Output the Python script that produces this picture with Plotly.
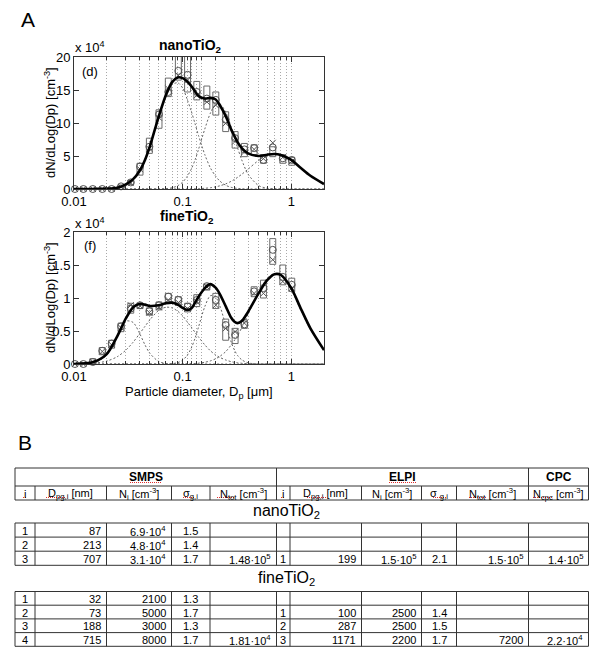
import plotly.graph_objects as go

W, H = 600, 649

# ---------------- data (values in units of 10^4 cm^-3) ----------------
D_grid = [0.01, 0.015, 0.02, 0.025, 0.03, 0.035, 0.04, 0.045, 0.05, 0.06, 0.07, 0.08, 0.09,
          0.1, 0.11, 0.12, 0.13, 0.14, 0.16, 0.18, 0.2, 0.22, 0.25, 0.28, 0.3, 0.32, 0.35,
          0.4, 0.5, 0.6, 0.7, 0.8, 1.0, 1.2, 1.5, 2.0]

nano_total = [0, 0.01, 0.05, 0.2, 0.7, 1.5, 2.7, 4.4, 6.5, 10.9, 14.2, 16.2, 16.9,
              16.8, 16.3, 15.6, 14.8, 14.1, 13.7, 13.8, 13.6, 12.7, 11.0, 9.0, 8.0, 7.1, 6.2,
              5.4, 5.0, 5.2, 5.3, 5.15, 4.4, 3.3, 2.0, 0.75]
nano_mode1 = [0, 0, 0.02, 0.14, 0.52, 1.3, 2.6, 4.3, 6.4, 10.6, 14.0, 15.8, 16.1,
              15.3, 13.6, 11.8, 9.9, 8.1, 5.2, 3.2, 2.0, 1.2, 0.55, 0.25, 0.15, 0.09, 0.04,
              0.01, 0, 0, 0, 0, 0, 0, 0, 0]
nano_mode2 = [0, 0, 0, 0, 0, 0, 0, 0, 0, 0.01, 0.05, 0.19, 0.49,
              1.04, 1.9, 3.0, 4.4, 6.0, 9.1, 11.5, 12.8, 12.9, 11.6, 9.35, 7.7, 6.25, 4.4,
              2.25, 0.52, 0.11, 0.025, 0, 0, 0, 0, 0]
nano_mode3 = [0, 0, 0, 0, 0, 0, 0, 0, 0, 0, 0, 0, 0,
              0.01, 0.01, 0.02, 0.03, 0.05, 0.11, 0.19, 0.32, 0.48, 0.79, 1.17, 1.46, 1.76, 2.23,
              3.0, 4.34, 5.12, 5.37, 5.22, 4.34, 3.27, 1.97, 0.79]

fine_total = [0, 0.03, 0.15, 0.42, 0.69, 0.86, 0.91, 0.90, 0.88, 0.89, 0.92, 0.93, 0.90,
              0.85, 0.82, 0.84, 0.93, 1.02, 1.15, 1.21, 1.16, 1.06, 0.87, 0.70, 0.64, 0.62, 0.65,
              0.79, 1.07, 1.27, 1.36, 1.35, 1.15, 0.87, 0.54, 0.21]
fine_mode1 = [0, 0.01, 0.135, 0.43, 0.65, 0.63, 0.47, 0.29, 0.16, 0.04, 0.008, 0, 0,
              0, 0, 0, 0, 0, 0, 0, 0, 0, 0, 0, 0, 0, 0,
              0, 0, 0, 0, 0, 0, 0, 0, 0]
fine_mode2 = [0, 0.01, 0.044, 0.11, 0.21, 0.33, 0.455, 0.57, 0.67, 0.81, 0.86, 0.85, 0.80,
              0.73, 0.64, 0.56, 0.48, 0.41, 0.29, 0.20, 0.14, 0.10, 0.06, 0.035, 0.025, 0.018, 0.011,
              0.005, 0, 0, 0, 0, 0, 0, 0, 0]
fine_mode3 = [0, 0, 0, 0, 0, 0, 0, 0, 0, 0, 0, 0.005, 0.02,
              0.058, 0.13, 0.24, 0.39, 0.56, 0.87, 1.035, 1.02, 0.88, 0.58, 0.33, 0.21, 0.13, 0.063,
              0.017, 0, 0, 0, 0, 0, 0, 0, 0]
fine_mode4 = [0, 0, 0, 0, 0, 0, 0, 0, 0, 0, 0, 0, 0,
              0.001, 0.003, 0.005, 0.008, 0.012, 0.026, 0.047, 0.077, 0.116, 0.19, 0.29, 0.36, 0.43, 0.55,
              0.75, 1.09, 1.30, 1.37, 1.34, 1.12, 0.85, 0.52, 0.21]

D_pts = [0.0102, 0.0122, 0.0149, 0.0182, 0.0222, 0.0271, 0.0333, 0.0405, 0.0494, 0.0606,
         0.0738, 0.0913, 0.111, 0.135, 0.167, 0.202, 0.249, 0.304, 0.370, 0.455, 0.554,
         0.675, 0.835, 1.01]

nano_lo = [0, 0, 0, 0, 0, 0.2, 0.7, 2.1, 5.4, 9.2, 14.0, 16.5, 14.7, 13.5, 12.1, 11.2, 8.7,
           6.2, 4.9, 5.2, 3.9, 4.9, 3.9, 3.6]
nano_hi = [0, 0, 0, 0, 0, 0.6, 1.3, 3.9, 7.7, 12.0, 16.8, 21.0, 21.0, 16.3, 15.6, 14.7, 11.7,
           8.7, 6.9, 6.7, 5.2, 6.4, 5.2, 4.8]
nano_circ = [0, 0, 0, 0, 0, 0.4, 1.0, 3.4, 6.4, 11.3, 14.7, 17.9, 17.3, 14.7, 13.7, 13.5, 10.5,
             7.7, 6.0, 6.2, 4.4, 6.3, 4.65, 4.4]
nano_x = [0, 0, 0, 0, 0, 0.3, 0.9, 3.0, 6.1, 10.8, 15.2, 17.2, 16.5, 14.2, 13.2, 12.7, 9.95,
          7.2, 5.6, 6.0, 4.6, 7.0, 4.8, 4.2]

fine_lo = [0, 0, 0, 0.14, 0.24, 0.49, 0.77, 0.84, 0.74, 0.82, 0.94, 0.89, 0.79, 0.87, 1.12,
           0.84, 0.36, 0.31, 0.54, 1.02, 1.0, 1.51, 1.2, 1.1]
fine_hi = [0, 0, 0.08, 0.25, 0.36, 0.62, 0.92, 0.92, 0.85, 0.94, 1.07, 1.02, 0.92, 1.05, 1.21,
           1.07, 0.68, 0.54, 0.67, 1.17, 1.27, 1.90, 1.5, 1.3]
fine_circ = [0, 0, 0.03, 0.2, 0.31, 0.57, 0.84, 0.89, 0.80, 0.89, 1.02, 0.97, 0.87, 0.97, 1.18,
             0.97, 0.59, 0.44, 0.60, 1.10, 1.15, 1.73, 1.32, 1.2]
fine_x = [0, 0, 0.03, 0.19, 0.29, 0.55, 0.89, 0.88, 0.78, 0.86, 0.97, 0.93, 0.84, 0.94, 1.17,
          0.89, 0.54, 0.49, 0.62, 1.07, 1.07, 1.58, 1.25, 1.15]

grid_minor = [0.02, 0.03, 0.04, 0.05, 0.06, 0.07, 0.08, 0.09, 0.11, 0.12, 0.135, 0.15,
              0.2, 0.3, 0.4, 0.5, 0.6, 0.7, 0.8, 0.9, 2]
x_ticks = [0.01, 0.1, 1]
x_ticktext = ["0.01", "0.1", "1"]
y1_ticks = [0, 5, 10, 15, 20]
y2_ticks = [0, 0.5, 1, 1.5, 2]
y2_ticktext = ["0", "0.5", "1", "1.5", "2"]

# table content
smps_head = ["i", "D<sub>pg,i</sub> [nm]", "N<sub>i</sub> [cm<sup>-3</sup>]", "σ<sub>g,i</sub>",
             "N<sub>tot</sub> [cm<sup>-3</sup>]"]
elpi_head = ["i", "D<sub>pg,i</sub> [nm]", "N<sub>i</sub> [cm<sup>-3</sup>]", "σ <sub>g,i</sub>",
             "N<sub>tot</sub> [cm<sup>-3</sup>]"]
cpc_head = ["N<sub>cpc</sub> [cm<sup>-3</sup>]"]
nano_rows = [
    ["1", "87", "6.9·10<sup>4</sup>", "1.5", "", "", "", "", "", "", ""],
    ["2", "213", "4.8·10<sup>4</sup>", "1.4", "", "", "", "", "", "", ""],
    ["3", "707", "3.1·10<sup>4</sup>", "1.7", "1.48·10<sup>5</sup>", "1", "199",
     "1.5·10<sup>5</sup>", "2.1", "1.5·10<sup>5</sup>", "1.4·10<sup>5</sup>"],
]
fine_rows = [
    ["1", "32", "2100", "1.3", "", "", "", "", "", "", ""],
    ["2", "73", "5000", "1.7", "", "1", "100", "2500", "1.4", "", ""],
    ["3", "188", "3000", "1.3", "", "2", "287", "2500", "1.5", "", ""],
    ["4", "715", "8000", "1.7", "1.81·10<sup>4</sup>", "3", "1171", "2200", "1.7", "7200",
     "2.2·10<sup>4</sup>"],
]

# ---------------- layout helpers ----------------
FONT = "Liberation Sans, Arial, sans-serif"
XL, XR = 74, 324
TOP1, BOT1 = 57, 189
TOP2, BOT2 = 232, 364
BOXW = 1.065


def px(x):
    return x / W


def py(y):
    return 1 - y / H


def boxes(d, lo, hi):
    xs, ys = [], []
    for di, l, h in zip(d, lo, hi):
        a, b = di / BOXW, di * BOXW
        xs += [a, b, b, a, a, None]
        ys += [l, l, h, h, l, None]
    return xs, ys


fig = go.Figure()


def add_panel(xa, ya, lo, hi, circ, xm, modes, total):
    bx, by = boxes(D_pts, lo, hi)
    fig.add_trace(go.Scatter(x=bx, y=by, mode="lines", xaxis=xa, yaxis=ya,
                             line=dict(color="#6a6a6a", width=1), hoverinfo="skip"))
    for m in modes:
        fig.add_trace(go.Scatter(x=D_grid, y=m, mode="lines", xaxis=xa, yaxis=ya,
                                 line=dict(color="#666", width=1, dash="2px,2px",
                                           shape="spline", smoothing=0.8)))
    fig.add_trace(go.Scatter(x=D_pts, y=circ, mode="markers", xaxis=xa, yaxis=ya, cliponaxis=False,
                             marker=dict(symbol="circle-open", size=7, color="#555",
                                         line=dict(width=1))))
    fig.add_trace(go.Scatter(x=D_pts, y=xm, mode="markers", xaxis=xa, yaxis=ya, cliponaxis=False,
                             marker=dict(symbol="x-thin-open", size=6, color="#555",
                                         line=dict(width=1, color="#555"))))
    fig.add_trace(go.Scatter(x=D_grid, y=total, mode="lines", xaxis=xa, yaxis=ya,
                             line=dict(color="black", width=2.6, shape="spline", smoothing=0.8)))


add_panel("x", "y", nano_lo, nano_hi, nano_circ, nano_x,
          [nano_mode1, nano_mode2, nano_mode3], nano_total)
add_panel("x2", "y2", fine_lo, fine_hi, fine_circ, fine_x,
          [fine_mode1, fine_mode2, fine_mode3, fine_mode4], fine_total)

xcommon = dict(type="log", range=[-2, 0.30103], domain=[px(XL), px(XR)], automargin=False,
               tickvals=x_ticks, ticktext=x_ticktext, ticks="inside", ticklen=5,
               tickcolor="#333", showline=True, linecolor="#333", linewidth=1, mirror="ticks",
               showgrid=True, gridcolor="#a8a8a8", griddash="1px,2px", gridwidth=1,
               zeroline=False, tickfont=dict(size=13, color="black", family=FONT),
               minor=dict(tickmode="array", tickvals=grid_minor, ticks="inside", ticklen=3,
                          tickcolor="#333", showgrid=True, gridcolor="#a8a8a8",
                          griddash="1px,2px", gridwidth=1))
ycommon = dict(ticks="inside", ticklen=5, tickcolor="#333", showline=True, linecolor="#333",
               linewidth=1, mirror="ticks", showgrid=False, zeroline=False, automargin=False,
               tickfont=dict(size=13, color="black", family=FONT))

fig.update_layout(
    width=W, height=H, margin=dict(l=0, r=0, t=0, b=0, pad=0, autoexpand=False),
    paper_bgcolor="white", plot_bgcolor="white", showlegend=False, hovermode=False,
    font=dict(family=FONT, color="black"),
    xaxis=dict(anchor="y", **xcommon),
    yaxis=dict(anchor="x", domain=[py(BOT1), py(TOP1)], range=[0, 20], tickvals=y1_ticks,
               **ycommon),
    xaxis2=dict(anchor="y2", **xcommon),
    yaxis2=dict(anchor="x2", domain=[py(BOT2), py(TOP2)], range=[0, 2], tickvals=y2_ticks,
                ticktext=y2_ticktext, **ycommon),
)

ann = []


def txt(x, y, s, size=13, xanchor="center", yanchor="middle", angle=0, bold=False):
    if bold:
        s = "<b>" + s + "</b>"
    ann.append(dict(x=px(x), y=py(y), xref="paper", yref="paper", text=s, showarrow=False,
                    xanchor=xanchor, yanchor=yanchor, textangle=angle,
                    font=dict(size=size, family=FONT, color="black")))


# figure texts
txt(28, 20, "A", size=21)
txt(190, 46, "nanoTiO<sub>2</sub>", size=14, bold=True)
txt(73, 47, "x 10<sup>4</sup>", size=13, xanchor="left")
txt(90, 72, "(d)", size=13)
txt(50, 123, "dN/dLog(Dp) [cm<sup>-3</sup>]", size=13, angle=-90)
txt(187, 217, "fineTiO<sub>2</sub>", size=14, bold=True)
txt(73, 223, "x 10<sup>4</sup>", size=13, xanchor="left")
txt(90, 245, "(f)", size=13)
txt(50, 298, "dN/dLog(Dp) [cm<sup>-3</sup>]", size=13, angle=-90)
txt(199, 392, "Particle diameter, D<sub>p</sub> [μm]", size=13)
txt(25, 442, "B", size=21)

# ---------------- table ----------------
cols = [15, 35, 106.5, 171.5, 210, 276.5, 290, 361.5, 421.5, 456.5, 528.5, 588.5]
align = ["center", "right", "right", "center", "right", "center", "right", "right", "center",
         "right", "right"]
shapes = []
LC = "#333"


def hline(y, x0=cols[0], x1=cols[-1], color=LC, dash=None, width=1):
    ln = dict(color=color, width=width)
    if dash:
        ln["dash"] = dash
    shapes.append(dict(type="line", xref="paper", yref="paper", x0=px(x0), x1=px(x1),
                       y0=py(y), y1=py(y), line=ln))


def vline(x, y0, y1):
    shapes.append(dict(type="line", xref="paper", yref="paper", x0=px(x), x1=px(x),
                       y0=py(y0), y1=py(y1), line=dict(color=LC, width=1)))


# header
HT, HM, HB = 468, 486, 500
hline(HT); hline(HM); hline(HB)
for xv in [cols[0], cols[5], cols[10], cols[11]]:
    vline(xv, HT, HM)
for xv in cols:
    vline(xv, HM, HB)
txt((cols[0] + cols[5]) / 2, (HT + HM) / 2, "SMPS", size=12, bold=True)
txt((cols[5] + cols[10]) / 2, (HT + HM) / 2, "ELPI", size=12, bold=True)
txt((cols[10] + cols[11]) / 2, (HT + HM) / 2, "CPC", size=12, bold=True)
for i, s in enumerate(smps_head + elpi_head + cpc_head):
    txt((cols[i] + cols[i + 1]) / 2, (HM + HB) / 2 + 0.5, s, size=11)

# red spell-check underlines seen in the source document
SQ = "#e03030"
for (a, b, yy) in [(130, 162, 482.5), (389, 416, 482.5), (23, 27, 497.5), (46, 66, 497.5),
                   (183, 194, 497.5), (217, 234, 497.5), (281, 285, 497.5), (307, 327, 497.5),
                   (433, 447, 497.5), (469, 487, 497.5), (533, 553, 497.5)]:
    hline(yy, a, b, color=SQ, dash="1px,1px", width=1.2)


def table_block(rows, ytop, rh):
    for r in range(len(rows) + 1):
        hline(ytop + r * rh)
    for xv in cols:
        vline(xv, ytop, ytop + len(rows) * rh)
    for r, row in enumerate(rows):
        yc = ytop + (r + 0.5) * rh + 0.5
        for c, s in enumerate(row):
            if not s:
                continue
            if align[c] == "right":
                txt(cols[c + 1] - 4, yc, s, size=11, xanchor="right")
            else:
                txt((cols[c] + cols[c + 1]) / 2, yc, s, size=11)


txt(286, 511, "nanoTiO<sub>2</sub>", size=16)
table_block(nano_rows, 523, 14.1)
txt(286, 578, "fineTiO<sub>2</sub>", size=16)
table_block(fine_rows, 591.5, 13.7)

fig.update_layout(annotations=ann, shapes=shapes)
fig.write_html("out.html", config={"displayModeBar": False, "staticPlot": True},
               post_script="document.body.style.margin='0';document.body.style.padding='0';"
                           "document.body.style.overflow='hidden';")
